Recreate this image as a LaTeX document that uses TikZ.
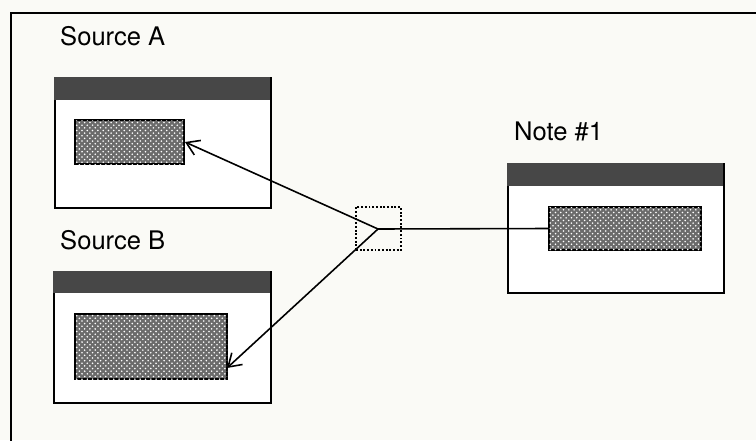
\documentclass[tikz,border=0pt]{standalone}
\usepackage{fontspec}
\setmainfont{TeX Gyre Heros}
\usetikzlibrary{arrows.meta, patterns}
\definecolor{paper}{RGB}{250,250,246}
\def\px{0.567pt}

\begin{document}
\begin{tikzpicture}[
  x=\px, y=-\px,
  win/.style={draw, line width=1.1pt, fill=white, inner sep=0pt, anchor=north west},
  bar/.style={fill=black!72, inner sep=0pt, anchor=north west},
  field/.style={draw, line width=1.1pt, fill=black!58, inner sep=0pt,
                postaction={pattern=crosshatch dots, pattern color=white}},
  lbl/.style={anchor=base west, font=\fontsize{14.5}{17}\selectfont},
  arr/.style={-{Straight Barb[length=7pt, width=9pt]}, line width=0.9pt}
]
  \useasboundingbox (0,0) rectangle (756,440);
  \clip (0,0) rectangle (756,440);
  \fill[paper] (0,0) rectangle (756,440);
  \draw[line width=1.1pt] (11,470) -- (11,13) -- (780,13);

  \node[lbl] (la) at (54,45)   {Source A};
  \node[lbl] (lb) at (54,249)  {Source B};
  \node[lbl] (ln) at (508,140) {Note \#1};

  \node[win, minimum width=216*\px, minimum height=130*\px] (wa) at (54,77)  {};
  \node[win, minimum width=217*\px, minimum height=131*\px] (wb) at (53,271) {};
  \node[win, minimum width=216*\px, minimum height=129*\px] (wn) at (507,163) {};
  \node[bar, minimum width=216*\px, minimum height=23*\px] (ba) at (wa.north west) {};
  \node[bar, minimum width=217*\px, minimum height=22*\px] (bb) at (wb.north west) {};
  \node[bar, minimum width=216*\px, minimum height=23*\px] (bn) at (wn.north west) {};

  \node[field, minimum width=109*\px, minimum height=44*\px] (fa) at (129.5,142) {};
  \node[field, minimum width=152*\px, minimum height=65*\px] (fb) at (151,346.5) {};
  \node[field, minimum width=152*\px, minimum height=43*\px] (fn) at (625,228.5) {};

  \node[draw, densely dotted, line width=1.1pt, inner sep=0pt,
        minimum width=45*\px, minimum height=43*\px] (sel) at (378.5,228.5) {};
  \coordinate (jn) at (378,229);
  \coordinate (tb) at (227,368);

  \draw[line width=0.9pt] (jn) -- (fn.west);
  \draw[arr] (jn) -- (fa.east);
  \draw[arr] (jn) -- (tb);
\end{tikzpicture}
\end{document}
